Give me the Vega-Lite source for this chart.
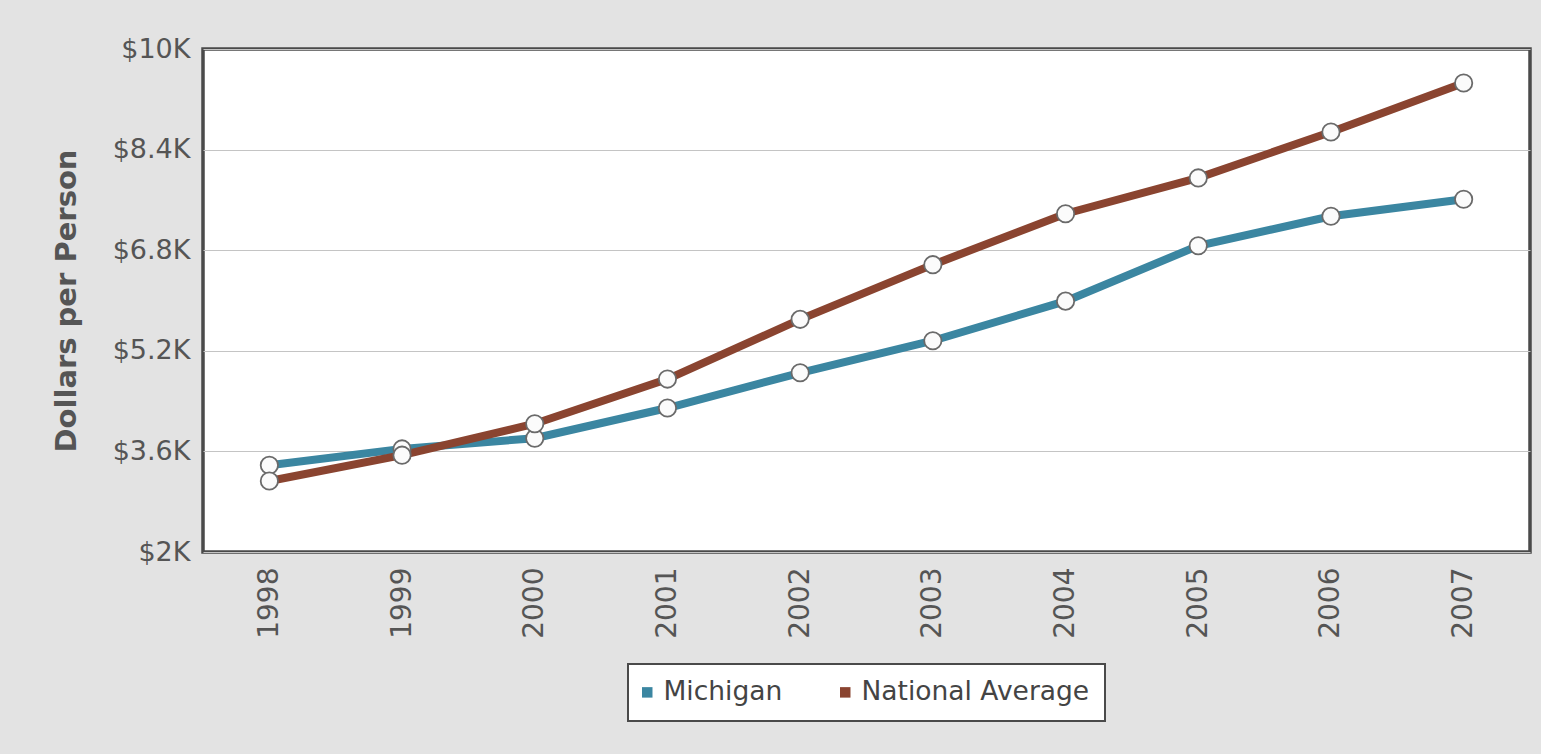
{
  "$schema": "https://vega.github.io/schema/vega-lite/v6.json",
  "width": 1327,
  "height": 503,
  "autosize": {"type": "none"},
  "padding": {"left": 203, "top": 49, "right": 11, "bottom": 202},
  "background": "#e3e3e3",
  "config": {
    "font": "DejaVu Sans",
    "view": {"fill": "#ffffff", "stroke": "#4a4a4a", "strokeWidth": 3.5},
    "legend": {"strokeWidth": 2}
  },
  "data": {
    "values": [
      {"year": "1998", "series": "Michigan", "dollars": 3380},
      {"year": "1999", "series": "Michigan", "dollars": 3640},
      {"year": "2000", "series": "Michigan", "dollars": 3810},
      {"year": "2001", "series": "Michigan", "dollars": 4290},
      {"year": "2002", "series": "Michigan", "dollars": 4850},
      {"year": "2003", "series": "Michigan", "dollars": 5360},
      {"year": "2004", "series": "Michigan", "dollars": 5990},
      {"year": "2005", "series": "Michigan", "dollars": 6870},
      {"year": "2006", "series": "Michigan", "dollars": 7340},
      {"year": "2007", "series": "Michigan", "dollars": 7610},
      {"year": "1998", "series": "National Average", "dollars": 3130},
      {"year": "1999", "series": "National Average", "dollars": 3540},
      {"year": "2000", "series": "National Average", "dollars": 4040},
      {"year": "2001", "series": "National Average", "dollars": 4750},
      {"year": "2002", "series": "National Average", "dollars": 5700},
      {"year": "2003", "series": "National Average", "dollars": 6570},
      {"year": "2004", "series": "National Average", "dollars": 7380},
      {"year": "2005", "series": "National Average", "dollars": 7950},
      {"year": "2006", "series": "National Average", "dollars": 8680},
      {"year": "2007", "series": "National Average", "dollars": 9460}
    ]
  },
  "encoding": {
    "x": {
      "field": "year",
      "type": "ordinal",
      "scale": {"type": "point", "padding": 0.5},
      "axis": {
        "title": null,
        "domain": false,
        "ticks": false,
        "grid": false,
        "labelAngle": -90,
        "labelPadding": 15,
        "labelFontSize": 28,
        "labelColor": "#555555"
      }
    },
    "y": {
      "field": "dollars",
      "type": "quantitative",
      "scale": {"domain": [2000, 10000], "nice": false, "zero": false},
      "axis": {
        "title": "Dollars per Person",
        "titleFontSize": 29,
        "titleFontWeight": "bold",
        "titleColor": "#555555",
        "titlePadding": 31,
        "values": [2000, 3600, 5200, 6800, 8400, 10000],
        "labelExpr": "'$' + (datum.value / 1000) + 'K'",
        "labelFontSize": 27,
        "labelColor": "#555555",
        "labelPadding": 13,
        "domain": false,
        "ticks": false,
        "grid": true,
        "gridColor": "#c4c4c4",
        "gridWidth": 1.2
      }
    }
  },
  "layer": [
    {
      "mark": {"type": "line", "strokeWidth": 8},
      "encoding": {
        "color": {
          "field": "series",
          "type": "nominal",
          "scale": {
            "domain": ["Michigan", "National Average"],
            "range": ["#3b86a1", "#8a4430"]
          },
          "legend": {
            "title": null,
            "orient": "none",
            "legendX": 425,
            "legendY": 615,
            "direction": "horizontal",
            "fillColor": "#ffffff",
            "strokeColor": "#4a4a4a",
            "padding": 15,
            "symbolType": "square",
            "symbolSize": 110,
            "symbolStrokeWidth": 0,
            "symbolOffset": -9,
            "labelFontSize": 26.5,
            "labelColor": "#444444",
            "labelOffset": 3,
            "labelLimit": 400,
            "columnPadding": 57,
            "encode": {
              "symbols": {
                "update": {
                  "fill": {"scale": "color", "field": "value"},
                  "strokeWidth": {"value": 0}
                }
              }
            }
          }
        }
      }
    },
    {
      "mark": {
        "type": "point",
        "shape": "circle",
        "filled": true,
        "fill": "#fbfbfb",
        "stroke": "#6a6a6a",
        "strokeWidth": 1.8,
        "size": 300,
        "opacity": 1
      },
      "encoding": {
        "detail": {"field": "series"}
      }
    }
  ]
}
